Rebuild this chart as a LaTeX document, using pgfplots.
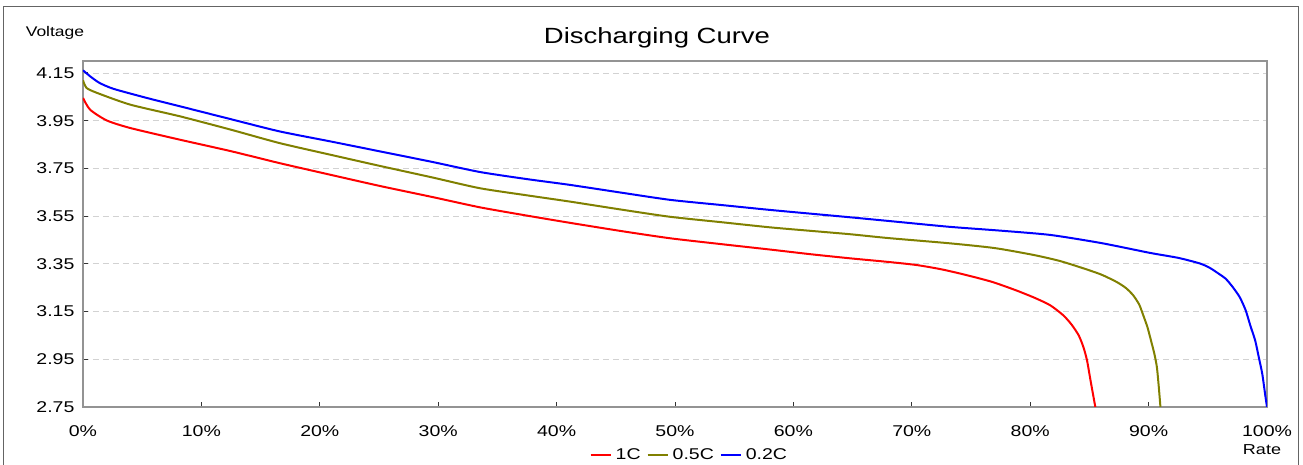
\documentclass[border=0pt]{standalone}
\usepackage{fontspec}
\setmainfont{Liberation Sans}[FakeStretch=1.25]
\usepackage{pgfplots}
\pgfplotsset{compat=1.18}
\definecolor{cred}{RGB}{255,0,0}
\definecolor{colive}{RGB}{128,128,0}
\definecolor{cblue}{RGB}{0,0,255}
\definecolor{framegray}{RGB}{100,100,100}

\begin{document}
\begin{tikzpicture}
\useasboundingbox (0,0) rectangle (651.5pt,232.5pt);
% outer frame (open at the bottom, as in the source image)
\draw[framegray, line width=0.5pt] (1.5pt,0) -- (1.5pt,229pt) -- (649pt,229pt) -- (649pt,0);

\begin{axis}[
    at={(41.5pt,29pt)}, anchor=south west,
    scale only axis,
    width=592pt, height=173pt,
    xmin=0, xmax=100,
    ymin=2.75, ymax=4.20,
    xtick={0,10,...,100},
    ytick={2.75,2.95,3.15,3.35,3.55,3.75,3.95,4.15},
    /pgf/number format/assume math mode=true,
    xticklabel={\pgfmathprintnumber{\tick}\%},
    yticklabel style={/pgf/number format/fixed,
        /pgf/number format/fixed zerofill,
        /pgf/number format/precision=2},
    ticklabel style={font=\fontsize{7.8}{9}\selectfont},
    yticklabel style={xshift=-0.75pt},
    xticklabel style={yshift=-6pt},
    tick align=inside,
    tick pos=left,
    major tick length=2.5pt,
    tick style={black!80, line width=0.5pt},
    axis line style={draw=gray!85, line width=0.7pt},
    ymajorgrids,
    grid style={densely dashed, gray!35, line width=0.4pt},
    legend columns=-1,
    legend style={at={(0.513,-0.139)}, anchor=center, draw=none, fill=none,
        font=\fontsize{7.8}{9}\selectfont,
        /tikz/every even column/.append style={column sep=1pt}},
    legend image code/.code={\draw[#1, line width=1pt] (0pt,0pt) -- (10pt,0pt);},
    every axis plot/.append style={line width=1pt, smooth, tension=0.4},
]
\addplot[cred] coordinates {
    (0,4.045) (0.6,3.996) (2,3.951) (4,3.919) (8.2,3.870) (12.5,3.822)
    (16.6,3.772) (21,3.722) (25.1,3.676) (29.5,3.630) (33.5,3.587)
    (37.5,3.552) (41.1,3.522) (45.5,3.487) (49.6,3.457) (54,3.432)
    (58,3.410) (61.5,3.390) (64.8,3.373) (68,3.358) (70.4,3.345)
    (72.5,3.327) (74.6,3.303) (76.8,3.274) (78.8,3.239) (80.4,3.207)
    (81.7,3.176) (82.8,3.134) (83.5,3.095) (84.1,3.050) (84.5,3.000)
    (84.8,2.945) (85.1,2.86) (85.5,2.75)
};
\addplot[colive] coordinates {
    (0,4.119) (0.3,4.087) (1.2,4.066) (4,4.017) (8.2,3.968) (12.5,3.912)
    (16.6,3.856) (21,3.806) (25.1,3.760) (29.5,3.712) (33.5,3.667)
    (37.5,3.637) (41.1,3.611) (45.5,3.577) (49.6,3.547) (54,3.524)
    (58,3.503) (61.5,3.488) (64.8,3.474) (68,3.458) (73.2,3.436)
    (77,3.416) (80.3,3.387) (82.5,3.362) (84.5,3.331) (86,3.305)
    (87.3,3.274) (88.1,3.248) (88.7,3.218) (89.2,3.180) (89.5,3.141)
    (89.9,3.085) (90.2,3.029) (90.5,2.970) (90.7,2.917) (90.85,2.84) (91.0,2.75)
};
\addplot[cblue] coordinates {
    (0,4.161) (0.6,4.136) (1.4,4.108) (2.6,4.083) (5.4,4.045) (8.2,4.010)
    (12.5,3.956) (16.6,3.905) (21,3.862) (25.1,3.821) (29.5,3.777)
    (33.5,3.735) (37.5,3.705) (41.1,3.681) (45.5,3.648) (49.6,3.618)
    (54,3.596) (58,3.576) (61.5,3.560) (64.8,3.545) (69,3.525)
    (73.2,3.505) (77.5,3.489) (81.7,3.471) (86,3.437) (90.1,3.396)
    (92.5,3.375) (94.3,3.352) (95.1,3.335) (95.7,3.316) (96.5,3.288)
    (97.1,3.253) (97.7,3.210) (98.2,3.155) (98.6,3.090) (99.0,3.029)
    (99.3,2.960) (99.6,2.889) (99.85,2.80) (100,2.75)
};
\legend{1C, 0.5C, 0.2C}
\end{axis}

\node[font=\fontsize{7}{8}\selectfont] at (27.5pt,216pt) {Voltage};
\node[font=\fontsize{11}{13}\selectfont] at (328.5pt,213.5pt) {Discharging Curve};
\node[font=\fontsize{7.2}{8}\selectfont] at (631pt,7.5pt) {Rate};
\end{tikzpicture}
\end{document}
